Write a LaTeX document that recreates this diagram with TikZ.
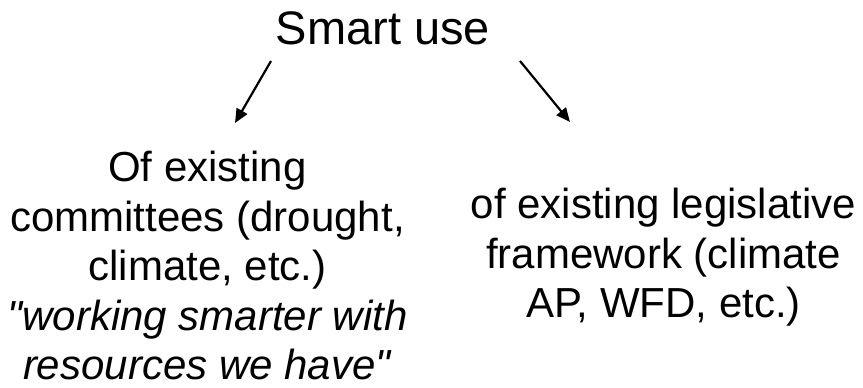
\documentclass[tikz,border=0pt]{standalone}
\usepackage{fontspec}
\setmainfont{Liberation Sans}
\usetikzlibrary{arrows.meta}

\begin{document}
\begin{tikzpicture}[
        x=1pt, y=1pt,
        txt/.style={align=center, font=\fontsize{42}{49.5}\selectfont, inner sep=0pt, anchor=north},
        arr/.style={-{Triangle[length=14pt, width=12pt]}, line width=2.2pt}
    ]
    \useasboundingbox (0,0) rectangle (863,388);
    \node[txt, font=\fontsize{47}{55}\selectfont] (smart) at (383,377) {Smart use};
    \node[txt] (committees) at (207.5,236.7) {Of existing\\committees (drought,\\climate, etc.)\\\textit{\textquotedbl working smarter with}\\\textit{resources we have\textquotedbl}};
    \node[txt] (legis) at (663.5,199.7) {of existing legislative\\framework (climate\\AP, WFD, etc.)};

    \coordinate (l1) at (271,327);
    \coordinate (l2) at (235,265);
    \coordinate (r1) at (520,327);
    \coordinate (r2) at (570,266);

    \draw[arr] (l1) -- (l2);
    \draw[arr] (r1) -- (r2);
\end{tikzpicture}
\end{document}
